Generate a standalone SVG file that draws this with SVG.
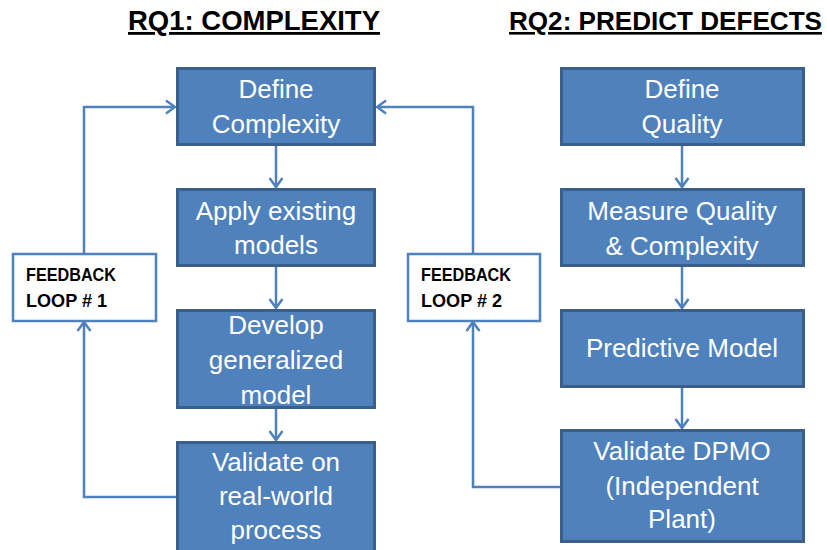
<svg xmlns="http://www.w3.org/2000/svg" width="827" height="550" viewBox="0 0 827 550">
  <style>
    .title { font-family: "Liberation Sans", Arial, sans-serif; font-weight: bold; fill: #000; text-decoration: underline; }
    .step rect { fill: #4F81BD; stroke: #3A5F8B; stroke-width: 3; }
    .step text { font-family: "Liberation Sans", Arial, sans-serif; font-size: 26px; fill: #fff; text-anchor: middle; }
    .loop rect { fill: #fff; stroke: #4F81BD; stroke-width: 2.5; }
    .loop text { font-family: "Liberation Sans", Arial, sans-serif; font-weight: bold; font-size: 18px; fill: #000; }
    .conn { fill: none; stroke: #4F81BD; stroke-width: 2.5; }
  </style>
  <defs>
    <marker id="arrow" markerUnits="userSpaceOnUse" viewBox="0 0 12 16" refX="10.5" refY="8" markerWidth="12" markerHeight="16" orient="auto">
      <path d="M1.5,1.5 L10.5,8 L1.5,14.5" fill="none" stroke="#4F81BD" stroke-width="2.5"/>
    </marker>
  </defs>

  <rect width="827" height="550" fill="#fff"/>

  <!-- column headings -->
  <text class="title" x="128" y="30" font-size="28" textLength="252" lengthAdjust="spacingAndGlyphs">RQ1: COMPLEXITY</text>
  <text class="title" x="509" y="30" font-size="26" textLength="313" lengthAdjust="spacingAndGlyphs">RQ2: PREDICT DEFECTS</text>

  <!-- connectors -->
  <g id="connectors">
    <path class="conn" d="M276,146 V187" marker-end="url(#arrow)"/>
    <path class="conn" d="M276,266 V308" marker-end="url(#arrow)"/>
    <path class="conn" d="M276,409 V440" marker-end="url(#arrow)"/>
    <path class="conn" d="M682,146 V187" marker-end="url(#arrow)"/>
    <path class="conn" d="M682,266 V308" marker-end="url(#arrow)"/>
    <path class="conn" d="M682,387 V428" marker-end="url(#arrow)"/>
    <!-- feedback loop 1 -->
    <path class="conn" d="M84,253 V107 H175" marker-end="url(#arrow)"/>
    <path class="conn" d="M176,497 H84 V322" marker-end="url(#arrow)"/>
    <!-- feedback loop 2 -->
    <path class="conn" d="M473,253 V107 H377" marker-end="url(#arrow)"/>
    <path class="conn" d="M560,487 H473 V322" marker-end="url(#arrow)"/>
  </g>

  <!-- RQ1 column -->
  <g id="define-complexity" class="step">
    <rect x="177.5" y="68.5" width="197" height="76"/>
    <text x="276" y="98">Define</text>
    <text x="276" y="133">Complexity</text>
  </g>
  <g id="apply-models" class="step">
    <rect x="177.5" y="189.5" width="197" height="76"/>
    <text x="276" y="220">Apply existing</text>
    <text x="276" y="254">models</text>
  </g>
  <g id="develop-model" class="step">
    <rect x="177.5" y="310.5" width="197" height="97"/>
    <text x="276" y="334">Develop</text>
    <text x="276" y="369">generalized</text>
    <text x="276" y="404">model</text>
  </g>
  <g id="validate-process" class="step">
    <rect x="177.5" y="442.5" width="197" height="115"/>
    <text x="276" y="471">Validate on</text>
    <text x="276" y="505">real-world</text>
    <text x="276" y="539">process</text>
  </g>

  <!-- RQ2 column -->
  <g id="define-quality" class="step">
    <rect x="561.5" y="68.5" width="242" height="76"/>
    <text x="682" y="98">Define</text>
    <text x="682" y="133">Quality</text>
  </g>
  <g id="measure" class="step">
    <rect x="561.5" y="189.5" width="242" height="76"/>
    <text x="682" y="220">Measure Quality</text>
    <text x="682" y="255">&amp; Complexity</text>
  </g>
  <g id="predictive-model" class="step">
    <rect x="561.5" y="310.5" width="242" height="76"/>
    <text x="682" y="357">Predictive Model</text>
  </g>
  <g id="validate-dpmo" class="step">
    <rect x="561.5" y="430.5" width="242" height="111"/>
    <text x="682" y="460">Validate DPMO</text>
    <text x="682" y="495">(Independent</text>
    <text x="682" y="528">Plant)</text>
  </g>

  <!-- feedback labels -->
  <g id="feedback-1" class="loop">
    <rect x="13" y="254" width="143" height="67"/>
    <text x="26" y="281" textLength="90" lengthAdjust="spacingAndGlyphs">FEEDBACK</text>
    <text x="26" y="307" textLength="81" lengthAdjust="spacingAndGlyphs">LOOP # 1</text>
  </g>
  <g id="feedback-2" class="loop">
    <rect x="408" y="254" width="132" height="67"/>
    <text x="421" y="281" textLength="90" lengthAdjust="spacingAndGlyphs">FEEDBACK</text>
    <text x="421" y="307" textLength="81" lengthAdjust="spacingAndGlyphs">LOOP # 2</text>
  </g>
</svg>
